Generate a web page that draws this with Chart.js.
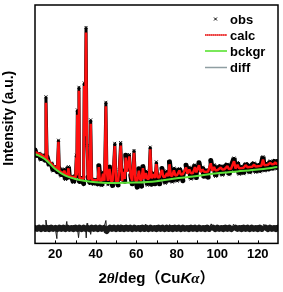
<!DOCTYPE html>
<html lang="en">
<head>
  <meta charset="UTF-8" />
  <title>Rietveld refinement</title>
  <script src="https://cdn.jsdelivr.net/npm/chart.js"></script>
  <style>
    body {
      margin: 0;
      padding: 0;
      background: #fff;
    }
  </style>
</head>
<body>
  <canvas id="xrdChart" width="283" height="292"></canvas>

  <script>
    // 2theta positions shared by obs and calc
    const twoTheta = [
      10, 11, 12, 13, 14, 15, 15.4, 16, 17, 18,
      19, 20, 21, 21.6, 22, 23, 24, 24.5, 25, 26,
      26.5, 27, 28, 29, 30, 30.4, 30.6, 30.9, 31.3, 31.7,
      32, 33, 34, 34.3, 34.75, 35.2, 35.7, 36.2, 37, 37.5,
      38, 39, 40, 41, 41.5, 42, 43, 43.6, 44.3, 45,
      45.5, 46, 46.8, 47.5, 48.3, 49.4, 50, 51, 51.6, 52.3,
      53, 53.9, 54.3, 54.8, 55.4, 56.6, 57.3, 58, 58.9, 59.6,
      60.5, 61.3, 62, 62.6, 63.3, 64, 64.8, 65.5, 66.3, 66.9,
      67.5, 68.5, 69.2, 69.9, 70.6, 71.5, 72.7, 73.4, 74.3, 75.2,
      75.8, 76.4, 77.1, 77.8, 78.6, 79.3, 80.2, 81.3, 82, 83,
      84.6, 85.3, 86.2, 87, 88, 89, 89.7, 91, 91.7, 92.7,
      93.5, 94.5, 95.5, 96.8, 97.5, 98.4, 99.2, 100.2, 101.7, 102.5,
      103.5, 105, 105.8, 106.8, 108.3, 109, 110, 110.8, 112, 113,
      114, 115, 116, 117.2, 118.2, 119, 120, 121, 121.8, 122.6,
      123.3, 124.2, 125, 126.2, 127, 128, 128.6, 129.3, 130
    ];
    const yObs = [
      39.2, 36.4, 37.8, 35.0, 37.2, 34.9, 61.5, 36.2, 32.8, 33.7,
      30.4, 32.4, 30.1, 43.3, 31.4, 28.3, 29.6, 31.3, 26.8, 29.6,
      32.2, 27.3, 28.2, 25.6, 28.2, 37.0, 28.0, 56.0, 31.0, 65.5,
      26.0, 27.8, 25.1, 67.3, 46.0, 90.6, 41.0, 27.8, 25.6, 51.8,
      26.8, 24.8, 26.9, 25.0, 32.6, 26.8, 24.2, 30.0, 26.1, 59.2,
      31.0, 24.6, 32.0, 26.6, 24.3, 42.0, 26.9, 24.5, 31.0, 42.3,
      27.0, 31.0, 26.0, 37.0, 31.0, 37.3, 28.6, 25.0, 39.0, 27.2,
      23.6, 31.3, 27.2, 24.0, 32.2, 27.6, 30.3, 24.4, 27.8, 40.4,
      24.8, 29.8, 25.0, 34.2, 28.2, 25.0, 31.4, 28.6, 25.2, 30.4,
      26.6, 34.2, 28.6, 25.7, 31.6, 28.9, 26.1, 31.4, 29.7, 26.3,
      32.8, 29.8, 32.0, 27.0, 30.3, 33.0, 27.6, 33.8, 30.7, 32.0,
      27.6, 31.0, 27.8, 34.8, 31.2, 33.0, 28.1, 31.6, 32.5, 28.6,
      32.0, 33.2, 28.8, 32.2, 35.8, 30.3, 34.0, 29.0, 32.5, 29.2,
      33.4, 32.6, 29.6, 33.0, 33.7, 29.8, 33.2, 30.0, 33.4, 36.4,
      30.4, 33.8, 30.6, 34.6, 31.0, 34.2, 34.8, 31.2, 34.3
    ];
    const yCalc = [
      38.2, 38.0, 37.6, 37.2, 36.6, 35.9, 59.0, 35.2, 34.4, 33.5,
      32.6, 31.8, 31.1, 42.6, 30.4, 29.9, 29.4, 30.5, 29.0, 28.6,
      31.5, 28.3, 28.0, 27.8, 27.6, 36.0, 28.5, 54.0, 30.0, 64.0,
      27.4, 27.2, 27.1, 66.0, 45.0, 88.5, 40.0, 27.0, 27.2, 50.2,
      26.8, 26.6, 26.5, 26.5, 32.0, 26.4, 26.4, 29.2, 26.3, 57.5,
      30.0, 26.2, 31.2, 26.2, 26.1, 40.8, 26.1, 26.1, 30.5, 41.0,
      26.2, 30.0, 27.0, 36.0, 30.0, 36.5, 28.0, 26.2, 38.0, 26.3,
      26.4, 30.5, 26.6, 26.7, 31.6, 27.0, 29.5, 27.0, 27.2, 39.5,
      27.3, 29.0, 27.4, 33.2, 27.6, 27.7, 30.8, 27.9, 28.0, 29.5,
      28.1, 33.2, 28.3, 28.4, 30.6, 28.5, 28.7, 30.6, 28.9, 29.0,
      31.8, 29.2, 31.0, 29.4, 29.5, 32.0, 29.8, 32.8, 29.9, 31.0,
      30.0, 30.1, 30.2, 33.6, 30.4, 32.0, 30.6, 30.8, 31.8, 31.0,
      31.1, 32.4, 31.2, 31.3, 34.5, 31.4, 33.0, 31.5, 31.6, 31.7,
      32.8, 31.9, 32.0, 32.1, 33.0, 32.2, 32.4, 32.5, 32.6, 35.2,
      32.8, 32.9, 33.0, 33.8, 33.2, 33.3, 34.0, 33.4, 33.5
    ];

    const bgTheta = [10, 15, 20, 25, 30, 35, 40, 50, 60, 70, 80, 90, 100, 110, 120, 130];
    const yBckgr = [37.6, 35.3, 31.2, 28.4, 27.0, 26.2, 25.7, 25.3, 25.5, 26.1, 27.3, 28.3, 29.4, 30.2, 31.0, 32.0];

    const diffTheta = [
      10, 11, 12, 13, 14, 15, 15.4, 16, 17, 18, 19, 20, 20.8, 21, 22, 23, 24, 25, 25.7, 26,
      27, 28, 29, 30, 31, 31.5, 32, 33, 34, 35, 35.3, 35.7, 36, 37, 37.5, 38, 39, 40, 41, 42,
      43, 44, 45, 45.4, 46, 47, 48, 49, 50, 51, 52, 52.4, 53, 54, 55, 56, 57, 58, 59, 60,
      61, 62, 63, 64, 64.5, 65, 66, 67, 68, 69, 70, 71, 72, 73, 74, 75, 76, 76.4, 77, 78,
      79, 80, 81, 82, 83, 84, 85, 86, 87, 88, 89, 90, 91, 92, 93, 94, 95, 96, 97, 98,
      99, 100, 101, 102, 103, 104, 105, 106, 107, 108, 109, 110, 111, 112, 113, 114, 115, 116, 117, 118,
      119, 120, 121, 122, 123, 124, 125, 126, 127, 128, 129, 130
    ];
    const yDiff = [
      6.5, 6.1, 6.6, 6.0, 6.6, 6.1, 9.8, 6.5, 6.0, 6.6, 6.1, 6.5, 2.0, 6.0, 6.6, 6.1, 6.6, 6.0, 9.2, 6.6,
      6.1, 6.5, 6.0, 6.6, 6.1, 2.4, 6.6, 6.0, 6.6, 6.1, 2.3, 8.4, 6.5, 6.0, 3.8, 6.6, 6.1, 6.6, 6.0, 6.6,
      6.1, 6.5, 9.6, 5.2, 6.0, 6.6, 6.1, 6.6, 6.0, 6.6, 6.1, 7.9, 6.5, 6.0, 6.6, 6.1, 6.6, 6.0, 6.6, 6.1,
      6.5, 6.0, 6.6, 6.1, 8.0, 6.6, 6.0, 6.6, 6.1, 6.5, 6.0, 6.6, 6.1, 6.6, 6.0, 6.6, 6.1, 7.9, 6.5, 6.0,
      6.6, 6.1, 6.6, 6.0, 6.6, 6.1, 6.5, 6.0, 6.6, 6.1, 6.6, 6.0, 6.6, 6.1, 6.5, 6.0, 6.6, 6.1, 8.2, 6.6,
      6.0, 6.6, 6.1, 6.5, 6.0, 6.6, 6.1, 6.6, 6.0, 8.0, 6.6, 6.1, 6.5, 6.0, 6.6, 6.1, 6.6, 6.0, 6.6, 6.1,
      6.5, 6.0, 6.6, 6.1, 8.0, 6.6, 6.0, 6.6, 6.1, 6.5, 6.0, 6.6
    ];

    const labelTicks = [20, 40, 60, 80, 100, 120];
    const legendLabels = ['obs', 'calc', 'bckgr', 'diff'];

    const sansBold = '"Liberation Sans", Arial, sans-serif';

    const pts = (xs, ys) => xs.map((x, i) => ({ x: x, y: ys[i] }));
    // thin strokes on steep (peak) segments, thick on the flat band
    const bandWidth = (thick, thin, limit) => c =>
      Math.abs(c.p1.parsed.y - c.p0.parsed.y) > limit ? thin : thick;

    // frame, inward ticks, legend and axis titles
    const decor = {
      id: 'decor',
      afterDraw(chart) {
        const ctx = chart.ctx;
        const a = chart.chartArea;
        const xs = chart.scales.x;
        ctx.save();

        ctx.strokeStyle = '#000';
        ctx.lineWidth = 1.5;
        ctx.strokeRect(a.left, a.top, a.right - a.left, a.bottom - a.top);

        ctx.lineWidth = 1;
        xs.ticks.forEach(t => {
          if (t.value <= xs.min || t.value >= xs.max) return;
          const px = Math.round(xs.getPixelForValue(t.value)) + 0.5;
          ctx.beginPath();
          ctx.moveTo(px, a.bottom);
          ctx.lineTo(px, a.bottom - 3);
          ctx.stroke();
        });

        // legend
        const lx = 205, tx = 230;
        const rows = [19, 35, 51, 67.5];
        ctx.font = 'bold 13px ' + sansBold;
        ctx.fillStyle = '#000';
        ctx.textBaseline = 'alphabetic';
        ctx.textAlign = 'left';
        legendLabels.forEach((lab, i) => {
          ctx.fillText(lab, tx, rows[i] + 4.5);
        });
        ctx.strokeStyle = '#000';
        ctx.lineWidth = 1;
        ctx.beginPath();
        ctx.moveTo(214, rows[0] - 1.5); ctx.lineTo(217, rows[0] + 1.5);
        ctx.moveTo(217, rows[0] - 1.5); ctx.lineTo(214, rows[0] + 1.5);
        ctx.stroke();
        ctx.strokeStyle = '#f57070';
        ctx.lineWidth = 2;
        ctx.beginPath(); ctx.moveTo(lx, rows[1]); ctx.lineTo(lx + 22, rows[1]); ctx.stroke();
        ctx.strokeStyle = '#e01010';
        ctx.lineWidth = 1;
        ctx.setLineDash([1, 1]);
        ctx.beginPath(); ctx.moveTo(lx, rows[1]); ctx.lineTo(lx + 22, rows[1]); ctx.stroke();
        ctx.setLineDash([]);
        ctx.strokeStyle = '#7ae85a';
        ctx.lineWidth = 2;
        ctx.beginPath(); ctx.moveTo(lx, rows[2]); ctx.lineTo(lx + 22, rows[2]); ctx.stroke();
        ctx.strokeStyle = '#8f9ea2';
        ctx.lineWidth = 1.5;
        ctx.beginPath(); ctx.moveTo(lx, rows[3]); ctx.lineTo(lx + 22, rows[3]); ctx.stroke();

        // y title
        ctx.save();
        ctx.translate(9, (a.top + a.bottom) / 2 - 6);
        ctx.rotate(-Math.PI / 2);
        ctx.font = 'bold 14px ' + sansBold;
        ctx.textAlign = 'center';
        ctx.textBaseline = 'middle';
        ctx.fillText('Intensity (a.u.)', 0, 0);
        ctx.restore();

        // x title with italic symbols
        const parts = [
          ['2', 'bold 15px ' + sansBold],
          ['θ', 'italic bold 15px "Liberation Serif", serif'],
          ['/deg', 'bold 15px ' + sansBold],
          ['（', 'bold 15px "Noto Sans CJK SC", sans-serif'],
          ['Cu', 'bold 15px ' + sansBold],
          ['K', 'italic bold 15px ' + sansBold],
          ['α', 'italic bold 15px "Liberation Serif", serif'],
          ['）', 'bold 15px "Noto Sans CJK SC", sans-serif']
        ];
        let total = 0;
        parts.forEach(p => { ctx.font = p[1]; total += ctx.measureText(p[0]).width; });
        let cx = (a.left + a.right) / 2 - total / 2;
        ctx.textAlign = 'left';
        ctx.textBaseline = 'alphabetic';
        parts.forEach(p => {
          ctx.font = p[1];
          ctx.fillText(p[0], cx, 283);
          cx += ctx.measureText(p[0]).width;
        });

        ctx.restore();
      }
    };

    const ctx = document.getElementById('xrdChart').getContext('2d');
    new Chart(ctx, {
      type: 'line',
      data: {
        datasets: [
          {
            label: 'diff',
            data: pts(diffTheta, yDiff),
            borderColor: '#1a1a1a',
            borderWidth: 6,
            borderCapStyle: 'round',
            borderJoinStyle: 'round',
            pointRadius: 0,
            segment: { borderWidth: bandWidth(6, 1, 1.2) },
            order: 1
          },
          {
            label: 'bckgr',
            data: pts(bgTheta, yBckgr),
            borderColor: '#5ce03a',
            borderWidth: 2,
            pointRadius: 0,
            cubicInterpolationMode: 'monotone',
            order: 2
          },
          {
            label: 'calc',
            data: pts(twoTheta, yCalc),
            borderColor: '#ff1010',
            borderWidth: 2.5,
            borderJoinStyle: 'bevel',
            pointRadius: 0,
            order: 3
          },
          {
            label: 'obs',
            data: pts(twoTheta, yObs),
            borderColor: '#000',
            borderWidth: 5,
            borderCapStyle: 'round',
            borderJoinStyle: 'bevel',
            segment: { borderWidth: bandWidth(5, 3, 6) },
            pointStyle: 'crossRot',
            pointRadius: 2,
            pointBorderWidth: 1,
            pointBorderColor: '#000',
            order: 4
          }
        ]
      },
      options: {
        responsive: false,
        animation: false,
        devicePixelRatio: 1,
        layout: {
          padding: { left: 35, right: 4, top: 1, bottom: 27 }
        },
        plugins: {
          legend: { display: false },
          tooltip: { enabled: false }
        },
        scales: {
          x: {
            type: 'linear',
            min: 10,
            max: 130,
            grid: { display: false, drawTicks: false },
            border: { display: false },
            ticks: {
              stepSize: 10,
              autoSkip: false,
              maxRotation: 0,
              padding: 3,
              color: '#000',
              font: { family: sansBold, size: 13, weight: 'bold' },
              callback: v => labelTicks.includes(v) ? v : ''
            }
          },
          y: {
            display: false,
            min: 0,
            max: 100
          }
        }
      },
      plugins: [decor]
    });
  </script>
</body>
</html>
